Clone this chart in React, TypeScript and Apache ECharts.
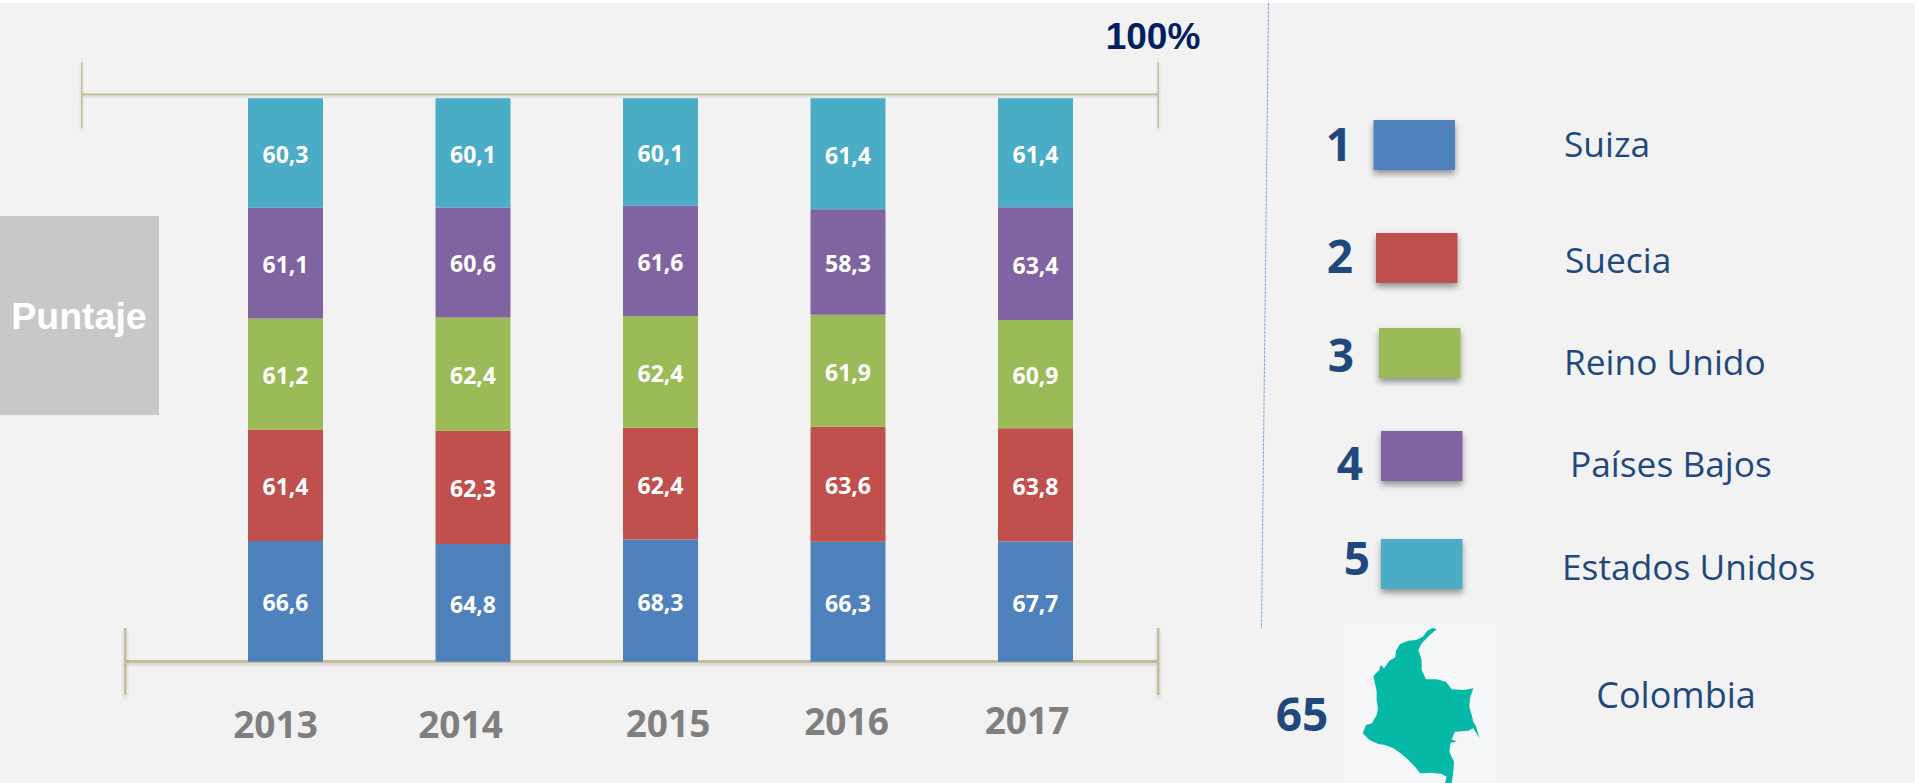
import React, { useEffect, useRef } from "react";
import * as echarts from "echarts";

const years = ["2013", "2014", "2015", "2016", "2017"];
const suiza = [66.6, 64.8, 68.3, 66.3, 67.7];
const suecia = [61.4, 62.3, 62.4, 63.6, 63.8];
const reinoUnido = [61.2, 62.4, 62.4, 61.9, 60.9];
const paisesBajos = [61.1, 60.6, 61.6, 58.3, 63.4];
const estadosUnidos = [60.3, 60.1, 60.1, 61.4, 61.4];
const rankNames = ["Suiza", "Suecia", "Reino Unido", "Países Bajos", "Estados Unidos"];
const rankNumbers = ["1", "2", "3", "4", "5"];
const colombiaName = "Colombia";
const colombiaScore = "65";
const totalLabel = "100%";
const sideLabel = "Puntaje";

const SERIES_VALUES = [suiza, suecia, reinoUnido, paisesBajos, estadosUnidos];
const COLORS = ["#4f81bd", "#c0504d", "#9bbb59", "#8064a2", "#4bacc6"];
const totals = years.map((_, i) => SERIES_VALUES.reduce((s, a) => s + a[i], 0));

// Year labels sit off-centre in the source: [dx, top padding]
const YEAR_NUDGE = [[-10, 10], [-12.5, 10], [7.5, 9], [-1.5, 7.7], [-8.5, 6.7]];
const yearItems = years.map((y, i) => {
  const [dx, top] = YEAR_NUDGE[i];
  return {
    value: y,
    textStyle: { padding: [top, dx < 0 ? -2 * dx : 0, 0, dx > 0 ? 2 * dx : 0] },
  };
});

const LEGEND_SQUARES = [[1373.5, 120], [1376, 233], [1379, 328], [1381, 431], [1381, 539]];
const LEGEND_NUMS = [[1339, 143], [1340, 255], [1341, 354], [1350, 462], [1357, 557]];
const LEGEND_TEXTS = [[1564, 143], [1565, 259], [1564, 361], [1570, 463], [1562, 566]];

const MAP_OUTLINE = [
  [290,28],[278,24],[262,32],[248,50],[228,60],[205,62],[180,72],[168,92],[166,112],[148,122],
  [132,145],[122,135],[118,150],[100,168],[105,190],[110,215],[110,240],[114,268],[110,285],[96,310],
  [78,315],[68,340],[88,360],[115,372],[135,375],[160,385],[185,402],[205,420],[225,440],[240,460],
  [275,458],[305,462],[320,470],[315,489],[335,489],[340,455],[342,425],[328,395],[332,368],[350,365],
  [335,358],[345,335],[385,332],[400,325],[418,355],[408,318],[400,305],[395,285],[388,260],[390,235],
  [400,205],[370,210],[335,208],[318,185],[290,178],[258,178],[245,150],[245,120],[235,90],[245,70],[270,45],
].map(([x, y]) => [1340 + x / 3, 620 + y / 3]);

const TAN = "#c4bd97";
const NAVY = "#1f497d";
const bar = (x: number, y: number, width: number, height: number) => ({
  type: "rect",
  shape: { x, y, width, height },
  style: { fill: TAN, shadowBlur: 4, shadowOffsetY: 3, shadowColor: "rgba(0,0,0,0.18)" },
});
const label = (text: string, x: number, y: number, font: any, fill: string, align = "center") => ({
  type: "text",
  x,
  y,
  style: { text, fill, align, verticalAlign: "middle", ...font },
});
const OPEN_BOLD = (size: number) => ({ fontFamily: "Open Sans", fontWeight: "bold", fontSize: size });
const OPEN = (size: number) => ({ fontFamily: "Open Sans", fontSize: size });

export default function App() {
  const ref = useRef<HTMLDivElement>(null);
  useEffect(() => {
    const chart = echarts.init(ref.current!, undefined, { renderer: "svg" });
    chart.setOption({
      animation: false,
      backgroundColor: "transparent",
      grid: { left: 191.75, top: 98.3, width: 937.5, height: 563.4, containLabel: false },
      xAxis: {
        type: "category",
        data: yearItems,
        axisLine: { show: false },
        axisTick: { show: false },
        axisLabel: {
          margin: 33,
          interval: 0,
          color: "#7f7f7f",
          fontFamily: "Open Sans",
          fontWeight: "bold",
          fontSize: 37,
        },
      },
      yAxis: { type: "value", min: 0, max: 100, show: false },
      series: SERIES_VALUES.map((values, s) => ({
        name: rankNames[s],
        type: "bar",
        stack: "share",
        barWidth: 75,
        itemStyle: { color: COLORS[s] },
        data: values.map((v, i) => (v / totals[i]) * 100),
        label: {
          show: true,
          position: "inside",
          offset: [0, 1],
          color: "#fff",
          fontFamily: "Open Sans",
          fontWeight: "bold",
          fontSize: 23,
          formatter: (p: any) => values[p.dataIndex].toFixed(1).replace(".", ","),
        },
      })),
      graphic: [
        // top bracket
        bar(82, 93.5, 1076, 2),
        bar(81, 62, 1.5, 66),
        bar(1157.5, 62, 1.5, 66),
        // bottom bracket
        bar(125, 660, 1033, 3),
        bar(124, 628, 2.5, 67),
        bar(1157, 628, 2.5, 67),
        label(totalLabel, 1153, 36, { fontFamily: "Liberation Sans", fontWeight: "bold", fontSize: 37 }, "#002060"),
        // side box
        { type: "rect", shape: { x: 0, y: 216, width: 159, height: 199 }, style: { fill: "#c8c8c8" } },
        label(sideLabel, 79, 316, { fontFamily: "Liberation Sans", fontWeight: "bold", fontSize: 37.5 }, "#ffffff"),
        // divider
        {
          type: "line",
          shape: { x1: 1268.5, y1: 3, x2: 1261.5, y2: 628 },
          style: { stroke: "#7ea3d3", lineWidth: 1, lineDash: [3, 1] },
        },
        // ranking legend
        ...LEGEND_SQUARES.map(([x, y], i) => ({
          type: "rect",
          shape: { x, y, width: 81.5, height: 50 },
          style: {
            fill: COLORS[i],
            shadowBlur: 6,
            shadowOffsetY: 4,
            shadowColor: "rgba(0,0,0,0.4)",
          },
        })),
        ...LEGEND_NUMS.map(([x, y], i) => label(rankNumbers[i], x, y, OPEN_BOLD(46), NAVY)),
        ...LEGEND_TEXTS.map(([x, y], i) => label(rankNames[i], x, y, OPEN(35.3), NAVY, "left")),
        // Colombia row
        label(colombiaScore, 1302, 713, OPEN_BOLD(46), NAVY),
        { type: "rect", shape: { x: 1344, y: 624, width: 152, height: 159 }, style: { fill: "#f5f6f8" } },
        { type: "polygon", shape: { points: MAP_OUTLINE }, style: { fill: "#06b8a6" } },
        label(colombiaName, 1676, 694, OPEN(36), NAVY),
      ],
    });
    return () => chart.dispose();
  }, []);
  return (
    <div
      style={{
        position: "absolute",
        left: 0,
        top: 0,
        width: 1915,
        height: 783,
        background: "linear-gradient(#ffffff 3px, #f2f2f2 3px)",
      }}
    >
      <div ref={ref} style={{ width: 1915, height: 783 }} />
    </div>
  );
}
